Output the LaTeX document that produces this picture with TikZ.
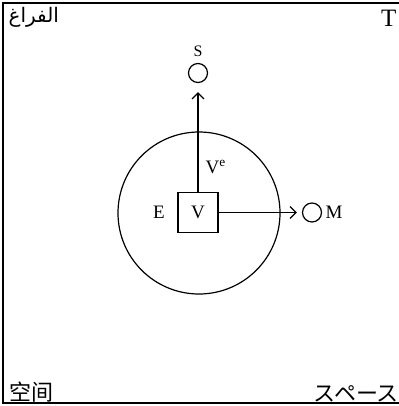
\documentclass[tikz,border=0pt]{standalone}
\usepackage{fontspec}
\setmainfont{Liberation Serif}
\newfontfamily\arabicfont[Script=Arabic]{DejaVu Sans}
\newfontfamily\cjkfont{Noto Sans CJK SC}
\newfontfamily\jpfont{Noto Sans CJK JP}
\TeXXeTstate=1
\usetikzlibrary{arrows.meta,positioning}

\begin{document}
\begin{tikzpicture}[x=1pt, y=-1pt, >={Straight Barb[length=6pt,width=12pt]},
    line width=1.2pt,
    lbl/.style={font=\fontsize{19}{21}\selectfont, inner sep=0pt},
    corner/.style={font=\fontsize{22}{24}\selectfont, inner sep=0pt},
    dot/.style={draw, circle, minimum size=19pt, inner sep=0pt}]
  \useasboundingbox (0,0) rectangle (398,406);
  % frame
  \draw[line width=2pt] (402,3) -- (3,3) -- (3,403) -- (402,403);
  % corner texts
  \node[corner, anchor=north west, font=\fontsize{20}{22}\arabicfont] (ar) at (8,7) {\beginR الفراغ\endR};
  \node[corner, anchor=north east, font=\fontsize{25}{27}\selectfont] (tt) at (397,10) {T};
  \node[corner, anchor=south west, font=\fontsize{22}{24}\cjkfont] (zh) at (9,403) {空间};
  \node[corner, anchor=south west, font=\fontsize{22}{24}\jpfont] (ja) at (313,403) {スペース};
  % environment and vehicle
  \node[draw, circle, minimum size=162pt, inner sep=0pt] (env) at (199,213) {};
  \node[draw, lbl, minimum size=40pt] (vbox) at (198,212.5) {V};
  \node[lbl, left=12pt of vbox] (elbl) {E};
  \node[dot] (sdot) at (198,73) {};
  \node[lbl, above=6pt of sdot, font=\fontsize{16}{18}\selectfont] (slbl) {S};
  \node[dot] (mdot) at (312,212.5) {};
  \node[lbl, right=3pt of mdot] (mlbl) {M};
  \node[lbl, anchor=south west] (ve) at (205,174) {V\textsuperscript{e}};
  % arrows
  \draw[->, shorten >=9pt] (vbox.north) -- (sdot.south);
  \draw[->, shorten >=5pt] (vbox.east) -- (mdot.west);
\end{tikzpicture}
\end{document}
